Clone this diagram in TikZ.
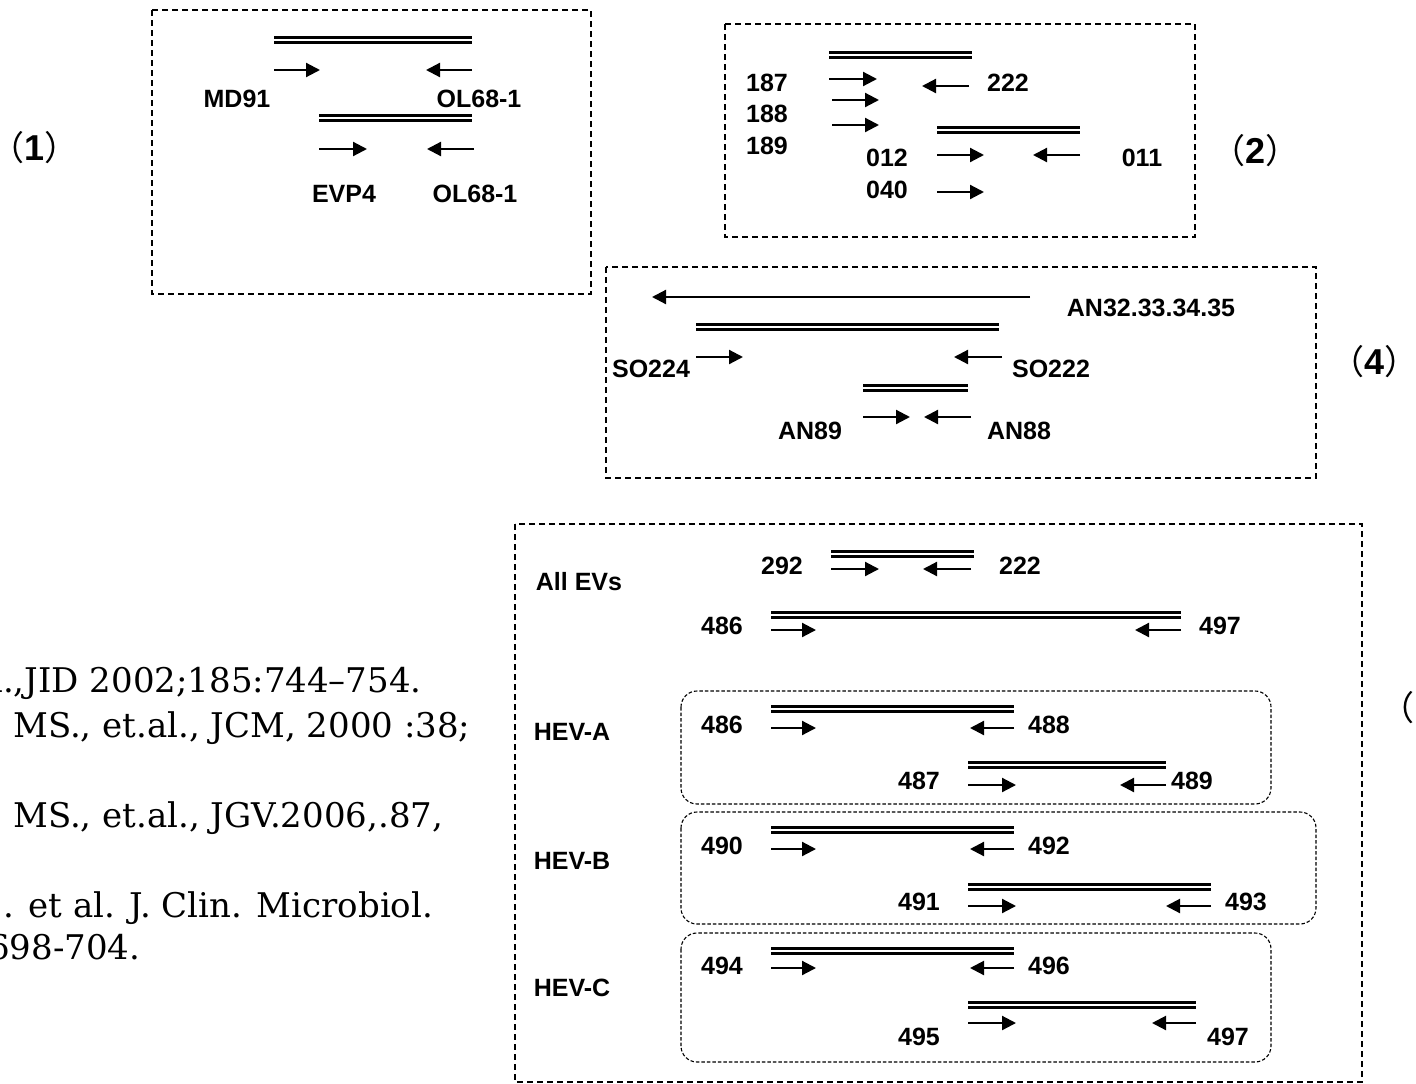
\documentclass[tikz,border=0pt]{standalone}
\usepackage{fontspec}
\setmainfont{DejaVu Serif}
\newfontfamily\lblfamily{Liberation Sans}
\newfontfamily\cjkfamily{Noto Sans CJK JP}
\usetikzlibrary{arrows.meta}
% panel number in full-width parentheses, side bearings trimmed
\newcommand\panelno[1]{\kern-0.55em（{\lblfamily\bfseries\fontsize{36}{40}\selectfont #1}）\kern-0.55em}

\begin{document}
\begin{tikzpicture}[x=1pt, y=-1pt,
    frame/.style={draw, line width=1.3pt, dash pattern=on 6pt off 4pt},
    group/.style={draw, line width=1.1pt, dash pattern=on 3.5pt off 2pt, rounded corners=16pt},
    amplicon/.style={draw, line width=2.8pt, double, double distance=2.2pt},
    primer/.style={line width=2.2pt, -{Triangle[length=14pt, width=14pt]}},
    lbl/.style={font=\lblfamily\bfseries\fontsize{25}{30}\selectfont, inner sep=0pt},
    tag/.style={font=\cjkfamily\fontsize{34}{40}\selectfont, inner sep=0pt, anchor=west},
    ref/.style={font=\fontsize{34}{40}\selectfont, inner sep=0pt, anchor=base west}
]
\useasboundingbox (0,0) rectangle (1416,1084);

% Panel (1)
\node[tag] (tag1) at (9,148) {\panelno{1}};
\draw[frame] (152,10) rectangle (591,294);
\draw[amplicon] (274,40) -- (472,40);
\draw[primer] (274,70) -- (320,70);
\draw[primer] (472,70) -- (426,70);
\node[lbl] (md91) at (237,99) {MD91};
\node[lbl] (ol68a) at (479,99) {OL68-1};
\draw[amplicon] (319,118) -- (472,118);
\draw[primer] (319,149) -- (367,149);
\draw[primer] (474,149) -- (427,149);
\node[lbl] (evp4) at (344,194) {EVP4};
\node[lbl] (ol68b) at (475,194) {OL68-1};

% Panel (2)
\node[tag] (tag2) at (1230,151) {\panelno{2}};
\draw[frame] (725,24) rectangle (1195,237);
\draw[amplicon] (829,55) -- (972,55);
\draw[primer] (829,79) -- (877,79);
\draw[primer] (969,86) -- (922,86);
\draw[primer] (832,100) -- (879,100);
\draw[primer] (832,125) -- (879,125);
\node[lbl] (p187) at (767,83) {187};
\node[lbl] (p222) at (1008,83) {222};
\node[lbl] (p188) at (767,114) {188};
\node[lbl] (p189) at (767,146) {189};
\draw[amplicon] (937,130) -- (1080,130);
\draw[primer] (937,155) -- (984,155);
\draw[primer] (1080,155) -- (1033,155);
\draw[primer] (937,192) -- (984,192);
\node[lbl] (p012) at (887,158) {012};
\node[lbl] (p011) at (1142,158) {011};
\node[lbl] (p040) at (887,190) {040};

% Panel (4)
\node[tag] (tag4) at (1349,362) {\panelno{4}};
\draw[frame] (606,267) rectangle (1316,478);
\draw[primer] (1030,297) -- (652,297);
\node[lbl] (an32) at (1151,308) {AN32.33.34.35};
\draw[amplicon] (696,327) -- (999,327);
\draw[primer] (696,357) -- (743,357);
\draw[primer] (1002,357) -- (954,357);
\node[lbl] (so224) at (651,369) {SO224};
\node[lbl] (so222) at (1051,369) {SO222};
\draw[amplicon] (863,388) -- (968,388);
\draw[primer] (863,417) -- (910,417);
\draw[primer] (971,417) -- (924,417);
\node[lbl] (an89) at (810,431) {AN89};
\node[lbl] (an88) at (1019,431) {AN88};

% Panel (5)
\node[tag] (tag5) at (1399,708) {\kern-0.55em（};
\draw[frame] (515,524) rectangle (1362,1082);
\node[lbl] (allev) at (579,582) {All EVs};
\draw[amplicon] (831,554) -- (974,554);
\draw[primer] (831,569) -- (879,569);
\draw[primer] (971,569) -- (923,569);
\node[lbl] (q292) at (782,566) {292};
\node[lbl] (q222) at (1020,566) {222};
\draw[amplicon] (771,615) -- (1181,615);
\draw[primer] (771,630) -- (816,630);
\draw[primer] (1181,630) -- (1135,630);
\node[lbl] (q486) at (722,626) {486};
\node[lbl] (q497) at (1220,626) {497};

% HEV-A
\node[lbl] (heva) at (572,732) {HEV-A};
\draw[group] (681,691) rectangle (1271,804);
\draw[amplicon] (771,709) -- (1014,709);
\draw[primer] (771,728) -- (816,728);
\draw[primer] (1014,728) -- (970,728);
\node[lbl] (a486) at (722,725) {486};
\node[lbl] (a488) at (1049,725) {488};
\draw[amplicon] (968,765) -- (1166,765);
\draw[primer] (968,785) -- (1016,785);
\draw[primer] (1166,785) -- (1120,785);
\node[lbl] (a487) at (919,781) {487};
\node[lbl] (a489) at (1192,781) {489};

% HEV-B
\node[lbl] (hevb) at (572,861) {HEV-B};
\draw[group] (681,812) rectangle (1316,924);
\draw[amplicon] (771,830) -- (1014,830);
\draw[primer] (771,849) -- (816,849);
\draw[primer] (1014,849) -- (970,849);
\node[lbl] (b490) at (722,846) {490};
\node[lbl] (b492) at (1049,846) {492};
\draw[amplicon] (968,887) -- (1211,887);
\draw[primer] (968,906) -- (1016,906);
\draw[primer] (1211,906) -- (1166,906);
\node[lbl] (b491) at (919,902) {491};
\node[lbl] (b493) at (1246,902) {493};

% HEV-C
\node[lbl] (hevc) at (572,988) {HEV-C};
\draw[group] (681,933) rectangle (1271,1062);
\draw[amplicon] (771,951) -- (1014,951);
\draw[primer] (771,968) -- (816,968);
\draw[primer] (1014,968) -- (970,968);
\node[lbl] (c494) at (722,966) {494};
\node[lbl] (c496) at (1049,966) {496};
\draw[amplicon] (968,1005) -- (1196,1005);
\draw[primer] (968,1023) -- (1016,1023);
\draw[primer] (1196,1023) -- (1152,1023);
\node[lbl] (c495) at (919,1037) {495};
\node[lbl] (c497) at (1228,1037) {497};

% References (cut at the left edge)
\node[ref] (ref1) at (-8,692) {l.,JID 2002;185:744–754.};
\node[ref] (ref2) at (13,737) {MS., et.al., JCM, 2000 :38;};
\node[ref] (ref3) at (13,827) {MS., et.al., JGV.2006,.87,};
\node[ref] (ref4) at (3,917) {. et al. J. Clin. Microbiol.};
\node[ref] (ref5) at (-12,959) {698-704.};

\end{tikzpicture}
\end{document}
